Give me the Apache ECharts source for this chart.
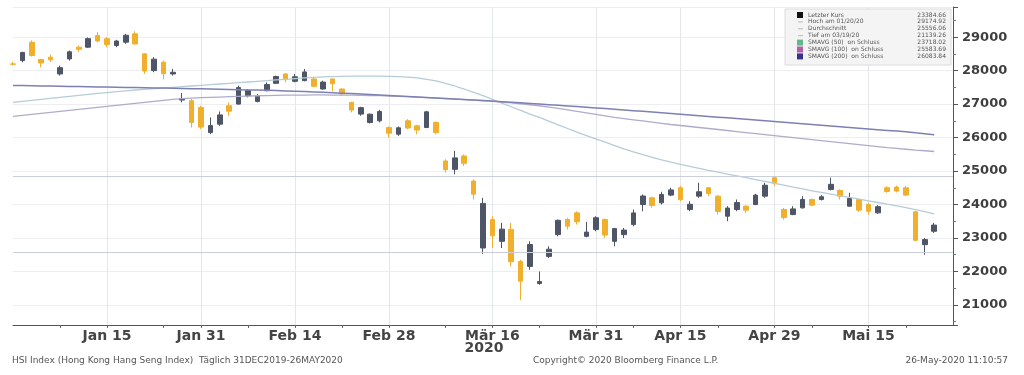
<!DOCTYPE html>
<html><head><meta charset="utf-8">
<script src="https://cdn.jsdelivr.net/npm/echarts@6.0.0/dist/echarts.min.js"></script>
<style>html,body{margin:0;padding:0;background:#fff}#c{width:1024px;height:375px}</style>
</head><body><div id="c"></div>
<script>
const dates = ['2019-12-31','2020-01-02','2020-01-03','2020-01-06','2020-01-07','2020-01-08','2020-01-09','2020-01-10','2020-01-13','2020-01-14',
'2020-01-15','2020-01-16','2020-01-17','2020-01-20','2020-01-21','2020-01-22','2020-01-23','2020-01-24','2020-01-29','2020-01-30',
'2020-01-31','2020-02-03','2020-02-04','2020-02-05','2020-02-06','2020-02-07','2020-02-10','2020-02-11','2020-02-12','2020-02-13',
'2020-02-14','2020-02-17','2020-02-18','2020-02-19','2020-02-20','2020-02-21','2020-02-24','2020-02-25','2020-02-26','2020-02-27',
'2020-02-28','2020-03-02','2020-03-03','2020-03-04','2020-03-05','2020-03-06','2020-03-09','2020-03-10','2020-03-11','2020-03-12',
'2020-03-13','2020-03-16','2020-03-17','2020-03-18','2020-03-19','2020-03-20','2020-03-23','2020-03-24','2020-03-25','2020-03-26',
'2020-03-27','2020-03-30','2020-03-31','2020-04-01','2020-04-02','2020-04-03','2020-04-06','2020-04-07','2020-04-08','2020-04-09',
'2020-04-14','2020-04-15','2020-04-16','2020-04-17','2020-04-20','2020-04-21','2020-04-22','2020-04-23','2020-04-24','2020-04-27',
'2020-04-28','2020-04-29','2020-05-04','2020-05-05','2020-05-06','2020-05-07','2020-05-08','2020-05-11','2020-05-12','2020-05-13',
'2020-05-14','2020-05-15','2020-05-18','2020-05-19','2020-05-20','2020-05-21','2020-05-22','2020-05-25','2020-05-26'];
const openVals = [28200,28300,28850,28330,28400,27900,28350,28700,28700,29050,
28950,28750,28850,29100,28500,28000,28250,27900,27120,27100,
26900,26150,26400,26950,27000,27250,27080,27400,27620,27900,
27680,27700,27750,27450,27750,27450,27050,26700,26450,26500,
26300,26100,26500,26350,26300,26450,25300,25050,25450,24700,
22700,23550,22900,23250,22300,22150,21640,22450,23100,23550,
23750,23050,23250,23550,22900,23100,23400,24000,24200,24050,
24280,24500,23850,24250,24500,24250,23650,23850,23950,24000,
24250,24800,23850,23700,23900,24150,24150,24450,24420,23950,
24150,24000,23750,24500,24520,24500,23780,22800,23200];
const highVals = [28260,28560,28900,28350,28480,28150,28600,28750,28990,29150,
29000,28920,29100,29174.92,28520,28400,28300,28050,27330,27150,
26950,26600,26780,27050,27550,27450,27300,27650,27850,27920,
27900,28050,27780,27700,27760,27470,27070,26920,26720,26830,
26330,26330,26550,26380,26800,26480,25350,25600,25500,24750,
24200,23650,23450,23450,22350,22900,22000,22750,23550,23600,
23800,23480,23650,23580,23300,23300,23850,24300,24230,24380,
24500,24550,24100,24650,24520,24280,23950,24150,23980,24320,
24650,24850,23900,23950,24250,24180,24280,24800,24450,24350,
24180,24050,23980,24550,24560,24550,23800,23000,23450];
const lowVals = [28150,28250,28420,28100,28260,27850,28300,28560,28680,28850,
28700,28700,28800,28780,27900,27950,27740,27850,27050,26300,
26250,26100,26350,26650,26980,27200,27050,27380,27600,27650,
27650,27680,27500,27430,27380,27250,26750,26650,26420,26450,
26000,26050,26250,26100,26280,26100,24950,24900,25150,24150,
22520,22700,22700,22150,21139.26,22050,21600,22400,23050,23250,
23400,23020,23200,23000,22750,23000,23350,23800,23900,24000,
24250,24100,23800,24200,24250,23700,23500,23800,23750,23980,
24200,24550,23550,23680,23880,23950,24120,24420,24150,23930,
23780,23700,23720,24350,24360,24250,22900,22500,23150];
const closeVals = [28189.75,28543.52,28451.50,28226.19,28322.06,28087.92,28561.00,28638.20,28954.94,28885.14,
28773.59,28883.04,29056.42,28795.91,27985.33,28341.04,27909.12,27949.64,27160.63,26449.13,
26312.63,26356.98,26675.97,26786.74,27493.67,27404.27,27241.34,27583.91,27823.66,27730.00,
27815.60,27959.60,27530.20,27655.84,27609.16,27308.81,26820.88,26893.23,26696.49,26778.62,
26129.93,26291.68,26284.82,26222.07,26767.87,26146.67,25040.46,25392.35,25231.62,24309.07,
24032.91,23063.57,23263.73,22291.82,21709.13,22805.07,21696.13,22663.49,23527.19,23352.34,
23484.28,23175.11,23603.48,23085.79,23280.06,23236.11,23749.12,24253.29,23970.37,24300.33,
24435.40,24145.34,24006.01,24380.00,24330.02,23793.55,23893.36,24056.44,23831.33,24280.03,
24575.62,24643.59,23613.80,23868.66,24150.00,23980.64,24230.17,24602.08,24245.68,24180.30,
23829.74,23797.47,23934.77,24388.13,24399.97,24280.07,22930.14,22952.24,23384.66];
const sma50 = [27050,27080,27110,27140,27170,27200,27230,27260,27290,27320,
27345,27370,27395,27420,27440,27460,27480,27500,27520,27540,
27560,27580,27600,27620,27640,27660,27680,27700,27720,27740,
27760,27780,27795,27810,27820,27828,27832,27835,27835,27833,
27828,27820,27805,27780,27740,27690,27620,27540,27450,27350,
27250,27140,27030,26920,26810,26700,26600,26490,26380,26270,
26160,26060,25960,25860,25760,25665,25575,25490,25410,25335,
25265,25200,25140,25080,25020,24965,24910,24855,24800,24745,
24690,24635,24580,24520,24465,24410,24360,24310,24260,24210,
24160,24110,24060,24010,23960,23905,23850,23785,23718.02];
const sma100 = [26630,26660,26690,26720,26750,26780,26810,26840,26870,26900,
26930,26960,26990,27020,27050,27080,27110,27140,27160,27175,
27190,27200,27210,27220,27230,27240,27248,27255,27260,27265,
27268,27270,27272,27272,27270,27268,27265,27260,27255,27250,
27240,27230,27220,27205,27190,27175,27160,27145,27130,27115,
27100,27080,27060,27035,27010,26980,26950,26910,26870,26825,
26780,26735,26690,26645,26600,26565,26530,26495,26460,26425,
26390,26360,26330,26300,26270,26240,26210,26180,26150,26120,
26090,26060,26030,26000,25970,25940,25910,25880,25850,25820,
25790,25760,25730,25700,25675,25650,25625,25605,25583.69];
const sma200 = [27558,27553,27548,27543,27538,27533,27528,27523,27518,27513,
27508,27503,27498,27493,27488,27483,27478,27473,27467,27461,
27455,27449,27443,27437,27431,27424,27417,27410,27402,27394,
27385,27375,27364,27352,27340,27327,27314,27300,27286,27272,
27258,27243,27228,27213,27198,27183,27168,27153,27138,27122,
27106,27089,27072,27054,27036,27018,27000,26981,26962,26943,
26924,26905,26886,26866,26846,26825,26804,26783,26762,26741,
26720,26698,26676,26654,26632,26610,26588,26566,26544,26522,
26500,26478,26456,26434,26412,26390,26368,26346,26324,26302,
26280,26258,26236,26214,26192,26170,26140,26112,26083.84];
const refLines = [24850, 22580];
const labelDates = ['2020-01-15','2020-01-31','2020-02-14','2020-02-28','2020-03-16','2020-03-31','2020-04-15','2020-04-29','2020-05-15'];
const labelTexts = ['Jan 15','Jan 31','Feb 14','Feb 28','M\u00e4r 16','M\u00e4r 31','Apr 15','Apr 29','Mai 15'];
const minorTickDates = ['2020-01-08','2020-01-23','2020-02-07','2020-02-21','2020-03-09','2020-03-23','2020-04-06','2020-04-21','2020-05-07','2020-05-21'];
const legendLabels = ['Letzter Kurs','Hoch am 01/20/20','Durchschnitt','Tief am 03/19/20','SMAVG (50)  on Schluss','SMAVG (100)  on Schluss','SMAVG (200)  on Schluss'];
const legendValues = ['23384.66','29174.92','25556.06','21139.26','23718.02','25583.69','26083.84'];
const legendIcons = ['#111111',null,null,null,'#5fb98a','#b35fa6','#34358a'];

const cats = dates.concat(['pad1','pad2']);
const labelIdx = labelDates.map(d => dates.indexOf(d));
const tickIdx = labelIdx.concat(minorTickDates.map(d => dates.indexOf(d)));
const labelMap = {};
labelDates.forEach((d, i) => { labelMap[d] = labelTexts[i]; });
const candleData = dates.map((d, i) => [openVals[i], closeVals[i], lowVals[i], highVals[i]]);

const FONT = 'DejaVu Sans';
const graphics = [
  {type:'rect', shape:{x:785, y:9, width:166, height:56}, style:{fill:'#f4f4f4', stroke:'#dcdcdc', lineWidth:1}, z:100}
];
legendLabels.forEach((lab, i) => {
  const yy = 15 + i * 6.9;
  if (legendIcons[i]) {
    graphics.push({type:'rect', shape:{x:797, y:yy - 3, width:6, height:6}, style:{fill:legendIcons[i]}, z:101});
  } else {
    graphics.push({type:'line', shape:{x1:798, y1:yy, x2:803, y2:yy}, style:{stroke:'#bbbbbb', lineWidth:1}, z:101});
  }
  graphics.push({type:'text', x:808, y:yy, style:{text:lab, fontSize:6, fontFamily:FONT, fill:'#555', verticalAlign:'middle'}, z:101});
  graphics.push({type:'text', x:946, y:yy, style:{text:legendValues[i], fontSize:6, fontFamily:FONT, fill:'#555', align:'right', verticalAlign:'middle'}, z:101});
});
graphics.push({type:'text', x:484, y:348, style:{text:'2020', fontSize:14, fontWeight:'bold', fontFamily:FONT, fill:'#444', align:'center', verticalAlign:'middle'}});
graphics.push({type:'text', x:12, y:361, style:{text:'HSI Index (Hong Kong Hang Seng Index)  T\u00e4glich 31DEC2019-26MAY2020', fontSize:9, fontFamily:FONT, fill:'#555', verticalAlign:'middle'}});
graphics.push({type:'text', x:533, y:361, style:{text:'Copyright\u00a9 2020 Bloomberg Finance L.P.', fontSize:9, fontFamily:FONT, fill:'#555', verticalAlign:'middle'}});
graphics.push({type:'text', x:1008, y:361, style:{text:'26-May-2020 11:10:57', fontSize:9, fontFamily:FONT, fill:'#555', align:'right', verticalAlign:'middle'}});

const chart = echarts.init(document.getElementById('c'), null, {renderer:'canvas'});
chart.setOption({
  animation:false,
  backgroundColor:'#ffffff',
  textStyle:{fontFamily:FONT},
  grid:{left:13, right:71, top:7, bottom:50, containLabel:false},
  xAxis:{
    type:'category', boundaryGap:false, data:cats,
    axisLine:{show:true, lineStyle:{color:'#555', width:1}},
    axisTick:{show:true, length:3, interval:(i) => tickIdx.includes(i), lineStyle:{color:'#666'}},
    axisLabel:{interval:(i) => labelIdx.includes(i), formatter:(v) => labelMap[v] || '', fontSize:14, fontWeight:'bold', color:'#444', margin:4, fontFamily:FONT},
    splitLine:{show:true, interval:(i) => labelIdx.includes(i), lineStyle:{color:'#e3e6ea', width:1}}
  },
  yAxis:{
    type:'value', position:'right', min:20400, max:29900, splitNumber:10, minInterval:1000, maxInterval:1000,
    axisLine:{show:true, lineStyle:{color:'#555'}},
    axisTick:{show:true, length:5, lineStyle:{color:'#555'}},
    minorTick:{show:true, splitNumber:2, length:3, lineStyle:{color:'#777'}},
    axisLabel:{margin:9, color:'#3f3f3f', fontSize:13, fontWeight:'bold', fontFamily:FONT, formatter:(v) => (v % 1000 === 0 ? String(v) : '')},
    splitLine:{show:true, lineStyle:{color:'#eceef1'}}
  },
  series:[
    {type:'candlestick', data:candleData, barWidth:5,
     itemStyle:{color:'#4d5566', color0:'#f0b02c', borderColor:'#4d5566', borderColor0:'#f0b02c', borderWidth:1}},
    {type:'line', data:sma50, symbol:'none', lineStyle:{color:'#b6ccd6', width:1.3}, silent:true},
    {type:'line', data:sma100, symbol:'none', lineStyle:{color:'#aeaccb', width:1.3}, silent:true},
    {type:'line', data:sma200, symbol:'none', lineStyle:{color:'#7c80b2', width:1.5}, silent:true,
     markLine:{silent:true, symbol:'none', label:{show:false}, lineStyle:{color:'#c9ced8', type:'solid', width:1},
       data: refLines.map(v => ({yAxis:v}))}}
  ],
  graphic: graphics
});
</script>
</body></html>
